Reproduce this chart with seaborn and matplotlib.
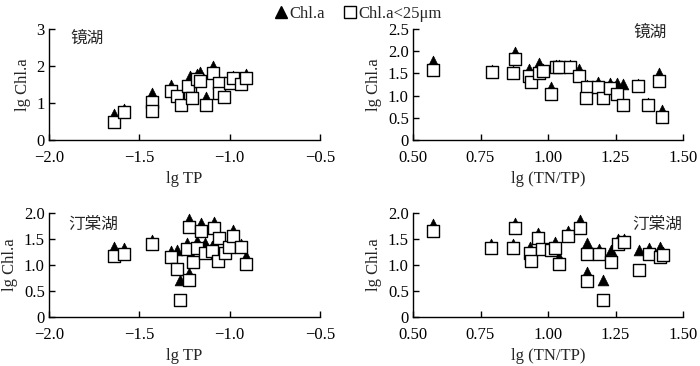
import matplotlib
matplotlib.use("Agg")
import matplotlib.pyplot as plt
import seaborn as sns
import pandas as pd
from matplotlib.lines import Line2D

sns.set_theme(style="ticks")
plt.rcParams['font.family'] = ['Liberation Serif', 'Noto Sans CJK SC']
plt.rcParams['font.size'] = 12

# 镜湖 vs lg TP
jh_tp = [-1.64, -1.585, -1.43, -1.43, -1.325, -1.29, -1.27, -1.22, -1.23, -1.21, -1.18, -1.165,
         -1.13, -1.09, -1.06, -1.06, -1.03, -1.00, -0.98, -0.94, -0.91]
jh_tp_chl = [0.70, 0.85, 1.28, 0.85, 1.48, 1.25, 1.00, 1.72, 1.50, 1.18, 1.78, 1.85,
             1.17, 2.00, 1.60, 1.35, 1.20, 1.58, 1.72, 1.55, 1.78]
jh_tp_chl25 = [0.49, 0.77, 1.04, 0.78, 1.33, 1.20, 0.95, 1.26, 1.46, 1.13, 1.64, 1.59,
               0.95, 1.82, 1.55, 1.28, 1.17, 1.53, 1.67, 1.51, 1.67]

# 镜湖 vs lg (TN/TP)
jh_np = [0.574, 0.793, 0.870, 0.877, 0.928, 0.938, 0.967, 0.980, 1.012, 1.028, 1.040, 1.080,
         1.115, 1.144, 1.140, 1.185, 1.204, 1.228, 1.257, 1.278, 1.333, 1.370, 1.410, 1.423]
jh_np_chl = [1.78, 1.58, 1.56, 1.99, 1.59, 1.36, 1.73, 1.60, 1.20, 1.70, 1.70, 1.68,
             1.59, 1.25, 1.00, 1.31, 1.00, 1.29, 1.28, 1.26, 1.26, 0.84, 1.50, 0.68]
jh_np_chl25 = [1.58, 1.54, 1.52, 1.82, 1.44, 1.31, 1.52, 1.56, 1.04, 1.65, 1.65, 1.65,
               1.44, 1.20, 0.95, 1.19, 0.95, 1.16, 1.04, 0.79, 1.22, 0.79, 1.34, 0.51]

# 汀棠湖 vs lg TP
tt_tp = [-1.64, -1.586, -1.429, -1.327, -1.294, -1.275, -1.235, -1.224, -1.224, -1.205, -1.18,
         -1.159, -1.137, -1.10, -1.085, -1.063, -1.057, -1.026, -1.002, -0.983, -0.94, -0.91]
tt_tp_chl = [1.35, 1.32, 1.48, 1.27, 1.28, 0.72, 1.43, 1.88, 0.85, 1.12, 1.47,
             1.81, 1.43, 1.37, 1.82, 1.14, 1.58, 1.30, 1.40, 1.68, 1.40, 1.17]
tt_tp_chl25 = [1.17, 1.21, 1.40, 1.16, 0.92, 0.32, 1.30, 1.73, 0.71, 1.06, 1.32,
               1.66, 1.23, 1.26, 1.72, 1.08, 1.52, 1.24, 1.34, 1.55, 1.34, 1.01]

# 汀棠湖 vs lg (TN/TP)
tt_np = [0.574, 0.790, 0.870, 0.877, 0.932, 0.938, 0.963, 0.979, 1.012, 1.025, 1.040, 1.074,
         1.117, 1.144, 1.144, 1.189, 1.204, 1.232, 1.259, 1.280, 1.336, 1.373, 1.414, 1.426]
tt_np_chl = [1.79, 1.40, 1.40, 1.80, 1.34, 1.14, 1.62, 1.36, 1.34, 1.45, 1.16, 1.65,
             1.87, 1.42, 0.87, 1.30, 0.72, 1.28, 1.50, 1.50, 1.28, 1.32, 1.34, 1.25]
tt_np_chl25 = [1.65, 1.32, 1.32, 1.72, 1.23, 1.08, 1.52, 1.30, 1.29, 1.32, 1.02, 1.55,
               1.72, 1.21, 0.70, 1.21, 0.32, 1.06, 1.41, 1.45, 0.90, 1.21, 1.16, 1.19]

lake_labels = ["镜湖", "镜湖", "汀棠湖", "汀棠湖"]
x_labels = ["lg TP", "lg (TN/TP)", "lg TP", "lg (TN/TP)"]
y_label = "lg Chl.a"
series_names = ["Chl.a", "Chl.a<25μm"]

fig = plt.figure(figsize=(7.0, 3.66), dpi=100)
W, H = 700, 366
def add_ax(l, r, t, b):
    return fig.add_axes([l / W, 1 - b / H, (r - l) / W, (b - t) / H])

axes = [add_ax(49, 320, 29, 140), add_ax(413, 683, 29, 140),
        add_ax(49, 320, 213, 317), add_ax(413, 683, 213, 317)]

datasets = [(jh_tp, jh_tp_chl, jh_tp_chl25), (jh_np, jh_np_chl, jh_np_chl25),
            (tt_tp, tt_tp_chl, tt_tp_chl25), (tt_np, tt_np_chl, tt_np_chl25)]

xlims = [(-2.0, -0.5), (0.5, 1.5), (-2.0, -0.5), (0.5, 1.5)]
xticks = [[-2.0, -1.5, -1.0, -0.5], [0.5, 0.75, 1.0, 1.25, 1.5],
          [-2.0, -1.5, -1.0, -0.5], [0.5, 0.75, 1.0, 1.25, 1.5]]
xticklabels = [["−2.0", "−1.5", "−1.0", "−0.5"], ["0.50", "0.75", "1.00", "1.25", "1.50"],
               ["−2.0", "−1.5", "−1.0", "−0.5"], ["0.50", "0.75", "1.00", "1.25", "1.50"]]
ylims = [(0, 3), (0, 2.5), (0, 2.0), (0, 2.0)]
yticks = [[0, 1, 2, 3], [0, 0.5, 1.0, 1.5, 2.0, 2.5], [0, 0.5, 1.0, 1.5, 2.0], [0, 0.5, 1.0, 1.5, 2.0]]
yticklabels = [["0", "1", "2", "3"], ["0", "0.5", "1.0", "1.5", "2.0", "2.5"],
               ["0", "0.5", "1.0", "1.5", "2.0"], ["0", "0.5", "1.0", "1.5", "2.0"]]
# lake label anchor in figure pixels (x, y_top, ha)
label_pix = [(70, 30, 'left'), (667, 24, 'right'), (68, 216, 'left'), (682, 216, 'right')]

for i, ax in enumerate(axes):
    x, c, c25 = datasets[i]
    df = pd.DataFrame({"x": x, "chl": c, "chl25": c25})
    sns.scatterplot(data=df, x="x", y="chl", ax=ax, marker="^", s=60, color="black",
                    edgecolor="black", linewidth=0.5, zorder=2, clip_on=False)
    sns.scatterplot(data=df, x="x", y="chl25", ax=ax, marker="s", s=78, color="white",
                    edgecolor="black", linewidth=1.0, zorder=3, clip_on=False)
    ax.set_xlim(*xlims[i])
    ax.set_ylim(*ylims[i])
    ax.set_xticks(xticks[i])
    ax.set_xticklabels(xticklabels[i])
    ax.set_yticks(yticks[i])
    ax.set_yticklabels(yticklabels[i])
    ax.tick_params(axis="x", direction="in", length=4, width=1, colors="black", labelsize=12, pad=7)
    ax.tick_params(axis="y", direction="in", length=4, width=1, colors="black", labelsize=12, pad=3)
    for s in ["top", "right"]:
        ax.spines[s].set_visible(False)
    for s in ["left", "bottom"]:
        ax.spines[s].set_color("black")
        ax.spines[s].set_linewidth(1)
    ax.set_xlabel(x_labels[i], fontsize=12, labelpad=4)
    ax.set_ylabel(y_label, fontsize=12, labelpad=4)
    lx, ly, ha = label_pix[i]
    fig.text(lx / W, 1 - ly / H, lake_labels[i], ha=ha, va="top", fontsize=12,
             family=['Noto Sans CJK SC'])
    ax.set_facecolor("white")

handles = [Line2D([], [], marker="^", linestyle="none", markerfacecolor="black",
                  markeredgecolor="black", markersize=9),
           Line2D([], [], marker="s", linestyle="none", markerfacecolor="white",
                  markeredgecolor="black", markersize=9)]
fig.legend(handles, series_names, loc="upper center", bbox_to_anchor=(0.51, 1.025), ncol=2,
           frameon=False, handletextpad=0.0, columnspacing=1.0, fontsize=12, handlelength=1.0)

fig.savefig("out.png", dpi=100, facecolor="white")
